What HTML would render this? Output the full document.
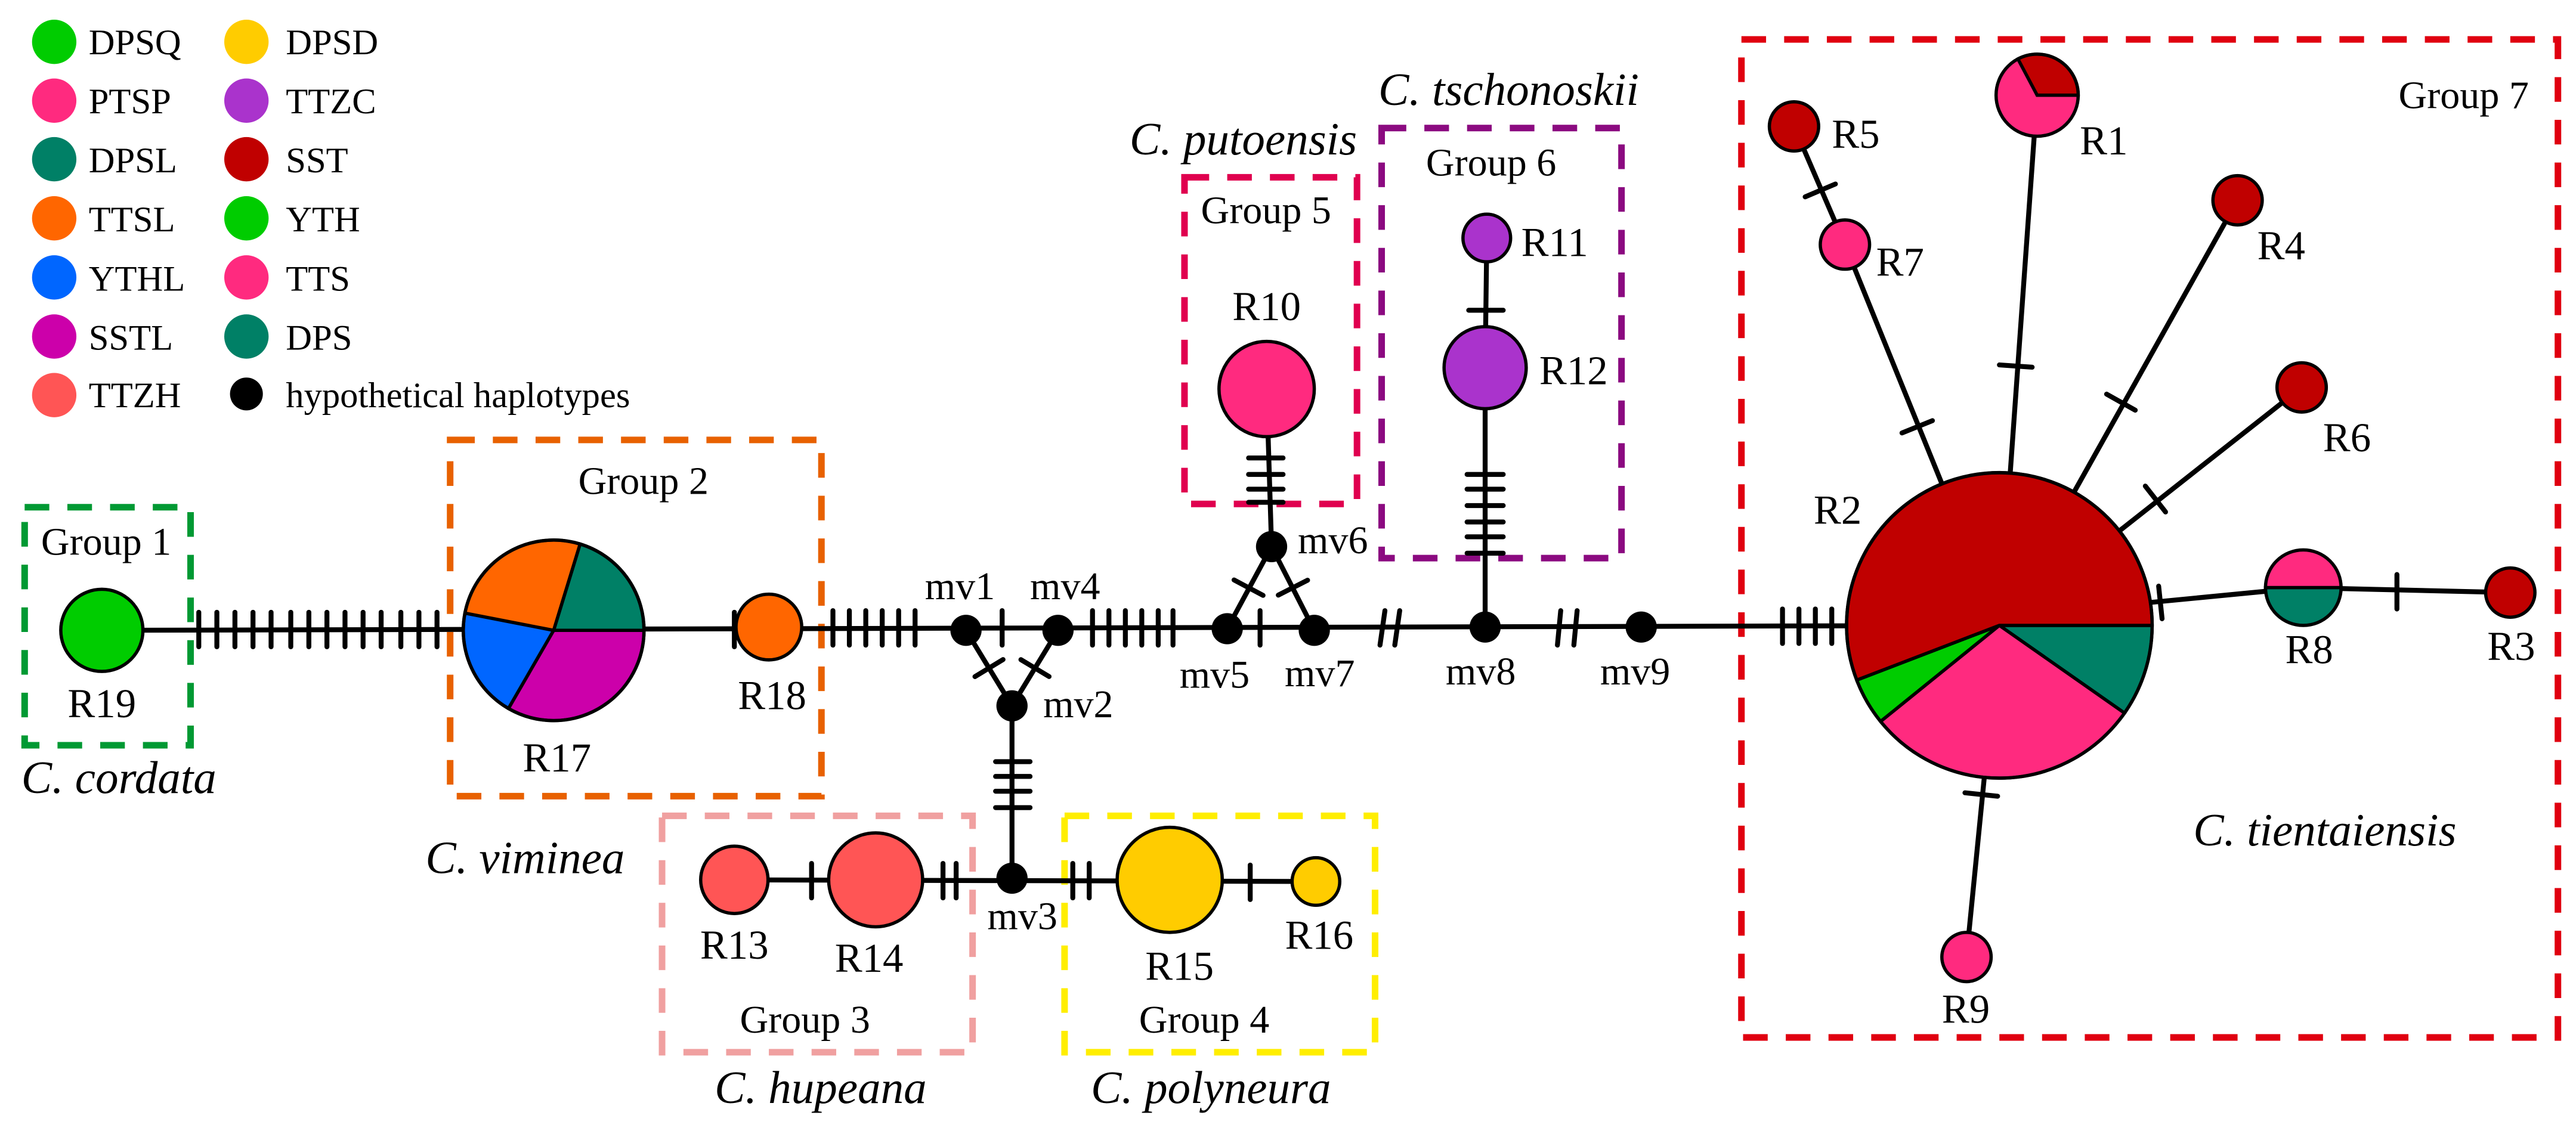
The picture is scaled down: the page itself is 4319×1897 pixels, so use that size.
<!DOCTYPE html>
<html><head><meta charset="utf-8"><style>
html,body{margin:0;padding:0;background:#fff;}
svg{display:block;font-family:"Liberation Serif","Times New Roman",Times,serif;}
svg text{font-family:"Liberation Serif","Times New Roman",Times,serif;fill:#000;}
</style></head><body>
<svg width="4319" height="1897" viewBox="0 0 1568 689" preserveAspectRatio="none" xmlns="http://www.w3.org/2000/svg" font-family="Liberation Serif, Times New Roman, serif" style="font-family:'Liberation Serif','Times New Roman',serif">
<rect width="1568" height="689" fill="#fff"/>
<g stroke="none">
<circle cx="33" cy="25.5" r="13.5" fill="#00cc00"/>
<circle cx="33" cy="61.3" r="13.5" fill="#ff2a7f"/>
<circle cx="33" cy="97" r="13.5" fill="#008066"/>
<circle cx="33" cy="133" r="13.5" fill="#ff6600"/>
<circle cx="33" cy="169" r="13.5" fill="#0066ff"/>
<circle cx="33" cy="205" r="13.5" fill="#cc00aa"/>
<circle cx="33" cy="240.7" r="13.5" fill="#ff5555"/>
<circle cx="150" cy="25.5" r="13.5" fill="#ffcc00"/>
<circle cx="150" cy="61.3" r="13.5" fill="#aa33cc"/>
<circle cx="150" cy="97" r="13.5" fill="#c00000"/>
<circle cx="150" cy="133" r="13.5" fill="#00cc00"/>
<circle cx="150" cy="169" r="13.5" fill="#ff2a7f"/>
<circle cx="150" cy="205" r="13.5" fill="#008066"/>
<circle cx="150" cy="240" r="10" fill="#000"/>
</g>
<g font-size="22">
<text x="54" y="33">DPSQ</text><text x="54" y="69">PTSP</text><text x="54" y="105">DPSL</text>
<text x="54" y="141">TTSL</text><text x="54" y="177">YTHL</text><text x="54" y="213">SSTL</text><text x="54" y="248">TTZH</text>
<text x="174" y="33">DPSD</text><text x="174" y="69">TTZC</text><text x="174" y="105">SST</text>
<text x="174" y="141">YTH</text><text x="174" y="177">TTS</text><text x="174" y="213">DPS</text><text x="174" y="248">hypothetical haplotypes</text>
</g>
<g fill="none" stroke-width="4" stroke-dasharray="15 11">
<rect x="15" y="309" width="101" height="145" stroke="#009933"/>
<rect x="274" y="268" width="226" height="217" stroke="#e86100"/>
<rect x="403" y="497" width="189" height="144" stroke="#f0a0a0"/>
<rect x="648" y="497" width="189" height="144" stroke="#ffee00"/>
<rect x="721" y="108" width="105" height="199" stroke="#e0004f"/>
<rect x="841" y="78" width="146" height="262" stroke="#8b0a80"/>
<rect x="1060" y="24" width="497" height="608" stroke="#e00010"/>
</g>
<g stroke="#000" stroke-width="3" fill="none">
<line x1="62" y1="384" x2="470" y2="383"/>
<line x1="470" y1="383" x2="1217" y2="381"/>
<line x1="588" y1="384" x2="616" y2="430"/>
<line x1="644" y1="384" x2="616" y2="430"/>
<line x1="616" y1="430" x2="616" y2="535"/>
<line x1="447" y1="536" x2="801" y2="537"/>
<line x1="747" y1="383" x2="774" y2="333"/>
<line x1="800" y1="384" x2="774" y2="333"/>
<line x1="774" y1="333" x2="771" y2="237"/>
<line x1="904" y1="382" x2="904" y2="224"/>
<line x1="904" y1="224" x2="905" y2="145"/>
<line x1="1217" y1="381" x2="1123" y2="149"/>
<line x1="1123" y1="149" x2="1092" y2="77"/>
<line x1="1217" y1="381" x2="1240" y2="58"/>
<line x1="1217" y1="381" x2="1362" y2="122"/>
<line x1="1217" y1="381" x2="1401" y2="236"/>
<line x1="1217" y1="381" x2="1197" y2="583"/>
<line x1="1309" y1="367" x2="1402" y2="358"/>
<line x1="1402" y1="358" x2="1528" y2="361"/>
</g>
<g stroke="#000" stroke-width="3" stroke-linecap="round">
<path d="M121 373v21M132 373v21M143 373v21M154 373v21M165 373v21M177 373v21M188 373v21M199 373v21M210 373v21M221 373v21M232 373v21M244 373v21M255 373v21M266 373v21"/>
<path d="M447 373v21"/>
<path d="M507 372v21M517 372v21M527 372v21M537 372v21M547 372v21M557 372v21"/>
<path d="M610 372v21"/>
<path d="M665 372v21M675 372v21M685 372v21M695 372v21M705 372v21M714 372v21"/>
<path d="M767 372v21"/>
<path d="M840 393l3-21M849 393l3-21M948 393l2-21M958 393l2-21"/>
<path d="M1085 371v21M1095 371v21M1105 371v21M1115 371v21"/>
<path d="M606 464h21M606 473h21M606 482h21M606 492h21"/>
<path d="M494 526v21M574 526v21M582 526v21M653 526v21M663 526v21M761 527v21"/>
<path d="M760 279h21M760 289h21M760 298h21M760 306h21"/>
<path d="M894 189h21"/>
<path d="M893 289h22M893 298h22M893 308h22M893 318h22M893 327h22M893 337h22"/>
<path d="M1459 350v21"/>
</g>
<g stroke="#000" stroke-width="3" stroke-linecap="round">
<g transform="translate(602,407) rotate(58.7)"><line x1="0" y1="-10" x2="0" y2="10"/></g>
<g transform="translate(630,407) rotate(121)"><line x1="0" y1="-10" x2="0" y2="10"/></g>
<g transform="translate(760,358) rotate(118)"><line x1="0" y1="-10" x2="0" y2="10"/></g>
<g transform="translate(787,358) rotate(63)"><line x1="0" y1="-10" x2="0" y2="10"/></g>
<g transform="translate(1167,260) rotate(-112)"><line x1="0" y1="-10" x2="0" y2="10"/></g>
<g transform="translate(1108,116) rotate(67)"><line x1="0" y1="-10" x2="0" y2="10"/></g>
<g transform="translate(1227,223) rotate(-86)"><line x1="0" y1="-10" x2="0" y2="10"/></g>
<g transform="translate(1291,245) rotate(-60.7)"><line x1="0" y1="-10" x2="0" y2="10"/></g>
<g transform="translate(1312,304) rotate(-38)"><line x1="0" y1="-10" x2="0" y2="10"/></g>
<g transform="translate(1206,484) rotate(96)"><line x1="0" y1="-10" x2="0" y2="10"/></g>
<g transform="translate(1315,367) rotate(-6)"><line x1="0" y1="-10" x2="0" y2="10"/></g>
</g>
<g stroke="#000" stroke-width="2">
<circle cx="62" cy="384" r="25" fill="#00cc00"/>
<path d="M337,384 L353.1,331.4 A55,55 0 0 1 392,384 Z" fill="#008066"/>
<path d="M337,384 L392,384 A55,55 0 0 1 309.5,431.6 Z" fill="#cc00aa"/>
<path d="M337,384 L309.5,431.6 A55,55 0 0 1 283,373.5 Z" fill="#0066ff"/>
<path d="M337,384 L283,373.5 A55,55 0 0 1 353.1,331.4 Z" fill="#ff6600"/>
<circle cx="337" cy="384" r="55" fill="none"/>
<circle cx="468" cy="382" r="20" fill="#ff6600"/>
<circle cx="447" cy="536" r="20.5" fill="#ff5555"/>
<circle cx="533" cy="536" r="28.6" fill="#ff5555"/>
<circle cx="712" cy="536" r="32" fill="#ffcc00"/>
<circle cx="801" cy="537" r="14.5" fill="#ffcc00"/>
<circle cx="771" cy="237" r="29" fill="#ff2a7f"/>
<circle cx="905" cy="145" r="14.5" fill="#aa33cc"/>
<circle cx="904" cy="224" r="25" fill="#aa33cc"/>
<path d="M1217,381 L1310,381 A93,93 0 0 1 1293.2,434.4 Z" fill="#008066"/>
<path d="M1217,381 L1293.2,434.4 A93,93 0 0 1 1144.7,439.5 Z" fill="#ff2a7f"/>
<path d="M1217,381 L1144.7,439.5 A93,93 0 0 1 1130.2,414.3 Z" fill="#00cc00"/>
<path d="M1217,381 L1130.2,414.3 A93,93 0 1 1 1310,381 Z" fill="#c00000"/>
<circle cx="1217" cy="381" r="93" fill="none"/>
<circle cx="1240" cy="58" r="25" fill="#ff2a7f"/>
<path d="M1240,58 L1228.3,35.9 A25,25 0 0 1 1265,58 Z" fill="#c00000"/>
<circle cx="1092" cy="77" r="15" fill="#c00000"/>
<circle cx="1123" cy="149" r="15" fill="#ff2a7f"/>
<circle cx="1362" cy="122" r="15" fill="#c00000"/>
<circle cx="1401" cy="236" r="15" fill="#c00000"/>
<path d="M1379,358 A23,23 0 0 1 1425,358 Z" fill="#ff2a7f"/>
<path d="M1379,358 A23,23 0 0 0 1425,358 Z" fill="#008066"/>
<circle cx="1528" cy="361" r="15" fill="#c00000"/>
<circle cx="1197" cy="583" r="15" fill="#ff2a7f"/>
</g>
<g fill="#000">
<circle cx="588" cy="384" r="9.5"/><circle cx="644" cy="384" r="9.5"/><circle cx="616" cy="430" r="9.5"/>
<circle cx="747" cy="383" r="9.5"/><circle cx="800" cy="384" r="9.5"/><circle cx="774" cy="333" r="9.5"/>
<circle cx="904" cy="382" r="9.5"/><circle cx="999" cy="382" r="9.5"/><circle cx="616" cy="535" r="9.5"/>
</g>
<g font-size="24">
<text x="563" y="365">mv1</text><text x="627" y="365">mv4</text><text x="635" y="437">mv2</text>
<text x="718" y="419">mv5</text><text x="782" y="418">mv7</text><text x="880" y="417">mv8</text>
<text x="974" y="417">mv9</text><text x="601" y="566">mv3</text><text x="790" y="337">mv6</text>
<text x="25" y="338">Group 1</text><text x="352" y="301">Group 2</text>
<text x="490" y="629" text-anchor="middle">Group 3</text><text x="733" y="629" text-anchor="middle">Group 4</text>
<text x="731" y="136">Group 5</text><text x="868" y="107">Group 6</text><text x="1460" y="66">Group 7</text>
</g>
<g font-size="25">
<text x="62" y="437" text-anchor="middle">R19</text>
<text x="339" y="470" text-anchor="middle">R17</text>
<text x="470" y="432" text-anchor="middle">R18</text>
<text x="447" y="584" text-anchor="middle">R13</text>
<text x="529" y="592" text-anchor="middle">R14</text>
<text x="718" y="597" text-anchor="middle">R15</text>
<text x="803" y="578" text-anchor="middle">R16</text>
<text x="771" y="195" text-anchor="middle">R10</text>
<text x="926" y="156">R11</text><text x="937" y="234">R12</text>
<text x="1115" y="90">R5</text><text x="1266" y="94">R1</text><text x="1142" y="168">R7</text>
<text x="1374" y="158">R4</text><text x="1414" y="275">R6</text><text x="1104" y="319">R2</text>
<text x="1391" y="404">R8</text><text x="1514" y="402">R3</text><text x="1182" y="623">R9</text>
</g>
<g font-size="28" font-style="italic">
<text x="13" y="483">C. cordata</text>
<text x="259" y="532">C. viminea</text>
<text x="435" y="672">C. hupeana</text>
<text x="664" y="672">C. polyneura</text>
<text x="826" y="94" text-anchor="end">C. putoensis</text>
<text x="839" y="64">C. tschonoskii</text>
<text x="1335" y="515">C. tientaiensis</text>
</g>
</svg>
</body></html>
